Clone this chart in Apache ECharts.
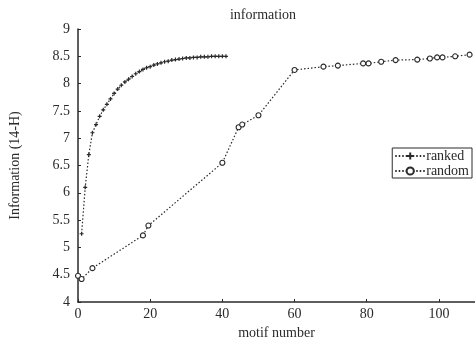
<!DOCTYPE html>
<html><head><meta charset="utf-8">
<script src="https://cdn.jsdelivr.net/npm/echarts@6/dist/echarts.min.js"></script>
<style>html,body{margin:0;padding:0;background:#fff}#c{width:475px;height:349px}</style>
</head><body><div id="c"></div>
<script>
const rankedX = [1,2,3,4,5,6,7,8,9,10,11,12,13,14,15,16,17,18,19,20,21,22,23,24,25,26,27,28,29,30,31,32,33,34,35,36,37,38,39,40,41];
const rankedY = [5.25,6.1,6.7,7.1,7.25,7.4,7.52,7.62,7.72,7.82,7.9,7.97,8.03,8.08,8.13,8.18,8.22,8.26,8.29,8.31,8.34,8.36,8.38,8.40,8.41,8.43,8.44,8.45,8.46,8.47,8.47,8.48,8.48,8.49,8.49,8.49,8.50,8.50,8.50,8.50,8.50];
const randomX = [0,1,4,18,19.5,40,44.5,45.5,50,60,68,72,79,80.5,84,88,94,97.5,99.5,101,104.5,108.5];
const randomY = [4.48,4.42,4.62,5.22,5.4,6.55,7.2,7.25,7.42,8.25,8.31,8.33,8.37,8.37,8.4,8.43,8.44,8.46,8.48,8.48,8.5,8.53];
const seriesNames = ['ranked','random'];
const titleText = 'information';
const xName = 'motif number';
const yName = 'Information (14-H)';

const zip = (xs, ys) => xs.map((x, i) => [x, ys[i]]);
const ink = '#2a2a2a';
const font = 'Liberation Serif';
const chart = echarts.init(document.getElementById('c'));
chart.setOption({
  animation: false,
  backgroundColor: '#fff',
  title: { text: titleText, left: 258, top: 3, textAlign: 'center',
    textStyle: { fontFamily: font, fontSize: 14, fontWeight: 'normal', color: ink } },
  legend: {
    right: 3, top: 148, orient: 'vertical', itemGap: 1, itemWidth: 30, itemHeight: 9,
    borderColor: ink, borderWidth: 1, padding: [1, 3, 0, 2],
    textStyle: { fontFamily: font, fontSize: 14, color: ink, padding: [0, 0, 0, -4] },
    data: seriesNames
  },
  grid: { left: 78, right: 0, top: 29, bottom: 47 },
  xAxis: {
    type: 'value', min: 0, max: 110, interval: 20,
    name: xName, nameLocation: 'middle', nameGap: 21,
    nameTextStyle: { fontFamily: font, fontSize: 14, color: ink },
    axisLine: { lineStyle: { color: ink, width: 1.5 } },
    axisTick: { inside: true, length: 3, lineStyle: { color: ink } },
    axisLabel: { fontFamily: font, fontSize: 14, color: ink, margin: 5, showMaxLabel: false },
    splitLine: { show: false }
  },
  yAxis: {
    type: 'value', min: 4, max: 9, interval: 0.5,
    name: yName, nameLocation: 'middle', nameGap: 56,
    nameTextStyle: { fontFamily: font, fontSize: 14, color: ink },
    axisLine: { show: true, lineStyle: { color: ink, width: 1.5 } },
    axisTick: { show: true, inside: true, length: 3, lineStyle: { color: ink } },
    axisLabel: { fontFamily: font, fontSize: 14, color: ink, margin: 8 },
    splitLine: { show: false }
  },
  series: [
    { name: seriesNames[0], type: 'line', data: zip(rankedX, rankedY),
      symbol: 'path://M-1,0L1,0M0,-1L0,1', symbolSize: 4,
      lineStyle: { color: ink, width: 1.2, type: [1.5, 2] },
      itemStyle: { color: 'none', borderColor: ink, borderWidth: 1.2 } },
    { name: seriesNames[1], type: 'line', data: zip(randomX, randomY),
      symbol: 'circle', symbolSize: 5,
      lineStyle: { color: ink, width: 1.2, type: [1.5, 2] },
      itemStyle: { color: '#fff', borderColor: ink, borderWidth: 1.1 } }
  ]
});
</script></body></html>
